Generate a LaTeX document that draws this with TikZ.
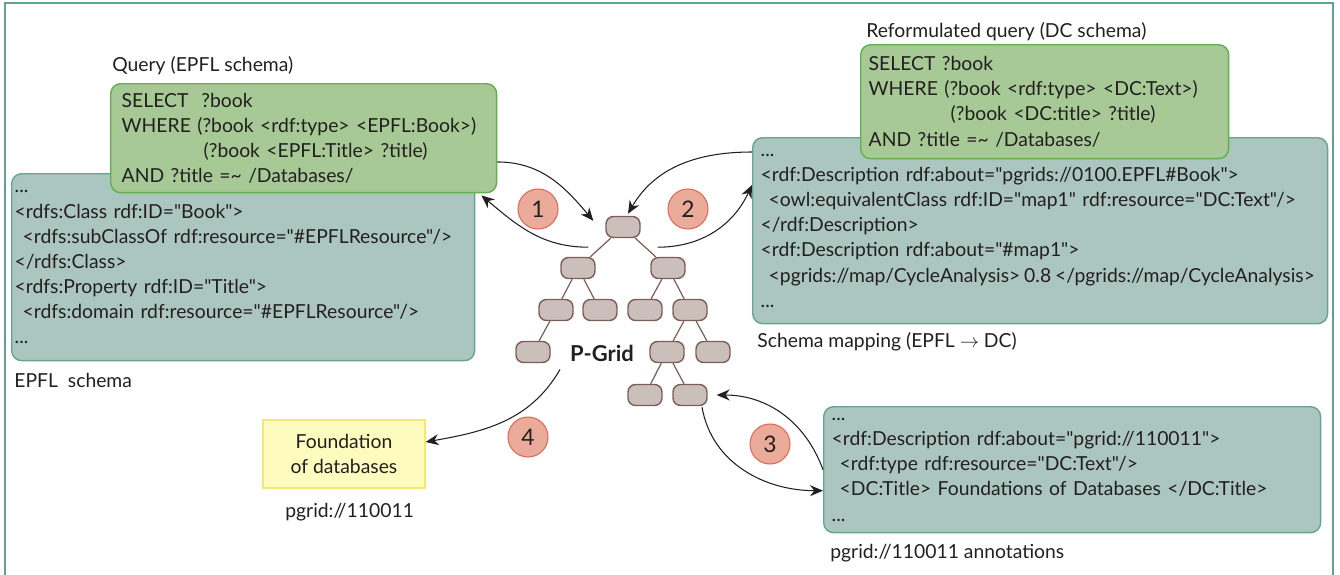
\documentclass[tikz,border=0pt]{standalone}
\usepackage{fontspec}
\setmainfont{Lato}[Ligatures=TeXOff]
\usetikzlibrary{arrows.meta,positioning}

\definecolor{frameteal}{HTML}{5FA292}
\definecolor{schemafill}{HTML}{ABC6BE}
\definecolor{schemaline}{HTML}{66A393}
\definecolor{queryfill}{HTML}{A6C995}
\definecolor{queryline}{HTML}{62AE50}
\definecolor{docfill}{HTML}{FEFBBE}
\definecolor{docline}{HTML}{F2E96E}
\definecolor{stepfill}{HTML}{EAAB9B}
\definecolor{stepline}{HTML}{DE6A58}
\definecolor{peerfill}{HTML}{CBBFBB}
\definecolor{peerline}{HTML}{7D5D58}
\definecolor{ink}{HTML}{231F20}

\begin{document}
\begin{tikzpicture}[x=0.02cm, y=-0.02cm,
    font=\fontsize{11}{14.3}\selectfont, text=ink,
    schemabox/.style={draw=schemaline, fill=schemafill, line width=0.8pt,
        rounded corners=2mm, anchor=north west, align=left, inner xsep=1.6mm},
    querybox/.style={draw=queryline, fill=queryfill, line width=0.8pt,
        rounded corners=2mm, anchor=north west, align=left, inner xsep=1.6mm},
    docbox/.style={draw=docline, fill=docfill, line width=0.8pt, align=center},
    peer/.style={draw=peerline, fill=peerfill, line width=0.8pt,
        rounded corners=1.5mm, minimum width=6.8mm, minimum height=4.2mm},
    treeedge/.style={draw=peerline, line width=0.7pt},
    stepno/.style={circle, draw=stepline, fill=stepfill, line width=0.6pt,
        minimum size=8mm, inner sep=0pt, font=\fontsize{13}{15}\selectfont},
    flow/.style={draw=ink, line width=0.6pt, -{Stealth[length=2.6mm,width=2.2mm]}},
    lbl/.style={anchor=base west, inner sep=0pt}]

    % Page and frame
    \useasboundingbox (0,0) rectangle (1340,575);
    \draw[frameteal, line width=1.2pt] (5,575) -- (5,3) -- (1333,3) -- (1333,575);

    % EPFL schema and query
    \node[schemabox, inner xsep=0.6mm, text width=91.4mm,
          minimum width=92.6mm, minimum height=37.4mm] (epfl) at (11,173) {%
        ...\\
        <rdfs:Class rdf:ID="Book">\\
        \hspace*{1.6mm}<rdfs:subClassOf rdf:resource="\#EPFLResource"/>\\
        </rdfs:Class>\\
        <rdfs:Property rdf:ID="Title">\\
        \hspace*{1.6mm}<rdfs:domain rdf:resource="\#EPFLResource"/>\\
        ...};
    \node[querybox, inner xsep=2.2mm, text width=72.8mm,
          minimum width=77.2mm, minimum height=21.8mm] (query) at (110,83) {%
        SELECT\ \ ?book\\
        WHERE (?book <rdf:type> <EPFL:Book>)\\
        \hspace*{16.4mm}(?book <EPFL:Title> ?title)\\
        AND ?title =\textasciitilde{} /Databases/};
    \node[lbl] (querylbl) at (112,71) {Query (EPFL schema)};
    \node[lbl] (epfllbl) at (14,387) {EPFL\ \ schema};

    % Schema mapping and reformulated query
    \node[schemabox, text width=111.8mm,
          minimum width=115mm, minimum height=37.2mm] (mapping) at (752,137) {%
        ...\\
        <rdf:Description rdf:about="pgrids://0100.EPFL\#Book">\\
        \hspace*{1.6mm}<owl:equivalentClass rdf:ID="map1" rdf:resource="DC:Text"/>\\
        </rdf:Description>\\
        <rdf:Description rdf:about="\#map1">\\
        \hspace*{1.6mm}\mbox{\spaceskip=0.2em\relax
            <pgrids://map/CycleAnalysis> 0.8 </pgrids://map/CycleAnalysis>}\\
        ...};
    \node[querybox, text width=70.4mm,
          minimum width=73.6mm, minimum height=22.8mm] (reform) at (860,44) {%
        SELECT ?book\\
        WHERE (?book <rdf:type> <DC:Text>)\\
        \hspace*{16.4mm}(?book <DC:title> ?title)\\
        AND ?title =\textasciitilde{} /Databases/};
    \node[lbl] (reformlbl) at (866,37) {Reformulated query (DC schema)};
    \node[lbl] (mappinglbl) at (757,347) {Schema mapping (EPFL $\rightarrow$ DC)};

    % Annotations
    \node[schemabox, text width=96.2mm,
          minimum width=99.4mm, minimum height=25.2mm] (annot) at (823,406) {%
        ...\\
        <rdf:Description rdf:about="pgrid://110011">\\
        \hspace*{1.6mm}<rdf:type rdf:resource="DC:Text"/>\\
        \hspace*{1.6mm}<DC:Title> Foundations of Databases </DC:Title>\\
        ...};
    \node[lbl] (annotlbl) at (830,558) {pgrid://110011 annotations};

    % Document
    \node[docbox, minimum width=32.4mm, minimum height=13.6mm] (found) at (344,454)
        {Foundation\\of databases};
    \node[lbl] (foundlbl) at (285,517) {pgrid://110011};

    % P-Grid tree
    \node[peer] (root) at (623,227) {};
    \node[peer] (l) at (578,268) {};
    \node[peer] (r) at (668,268) {};
    \node[peer] (ll) at (556,310) {};
    \node[peer] (lr) at (600,310) {};
    \node[peer] (rl) at (645,310) {};
    \node[peer] (rr) at (690,310) {};
    \node[peer] (lll) at (533,352) {};
    \node[peer] (rrl) at (667,352) {};
    \node[peer] (rrr) at (713,352) {};
    \node[peer] (rrll) at (645,395) {};
    \node[peer] (rrlr) at (690,395) {};
    \foreach \a/\b in {root/l, root/r, l/ll, l/lr, r/rl, r/rr, ll/lll,
                       rr/rrl, rr/rrr, rrl/rrll, rrl/rrlr}
        \draw[treeedge] (\a) -- (\b);
    \node[font=\fontsize{12.5}{15}\selectfont\bfseries] (pgrid) at (602,353) {P-Grid};

    % Steps
    \node[stepno] (s1) at (538,209) {1};
    \node[stepno] (s2) at (688,209) {2};
    \node[stepno] (s3) at (770,444) {3};
    \node[stepno] (s4) at (528,437) {4};

    % Message flow
    \draw[flow] (query.-7) to[out=0, in=130] ([xshift=-2.4mm,yshift=-1mm]root.north west);
    \draw[flow] ([xshift=-3.4mm,yshift=-1.8mm]root.south west) to[out=180, in=-40]
        ([xshift=-3.2mm,yshift=-0.4mm]query.south east);
    \draw[flow] ([yshift=-3mm]mapping.north west) to[out=180, in=60]
        ([xshift=1mm,yshift=0.4mm]root.north);
    \draw[flow] ([xshift=3.4mm,yshift=-1.8mm]root.south east) to[out=0, in=-115]
        ([yshift=-9.6mm]mapping.north west);
    \draw[flow] (annot.west) to[out=110, in=0] ([xshift=1.8mm]rrlr.east);
    \draw[flow] ([xshift=2.4mm,yshift=-0.2mm]rrlr.south) to[out=-80, in=180]
        ([yshift=-4.2mm]annot.west);
    \draw[flow] ([xshift=-0.8mm,yshift=-0.4mm]pgrid.south west) to[out=-120, in=10]
        ([yshift=2.4mm]found.east);

\end{tikzpicture}
\end{document}
